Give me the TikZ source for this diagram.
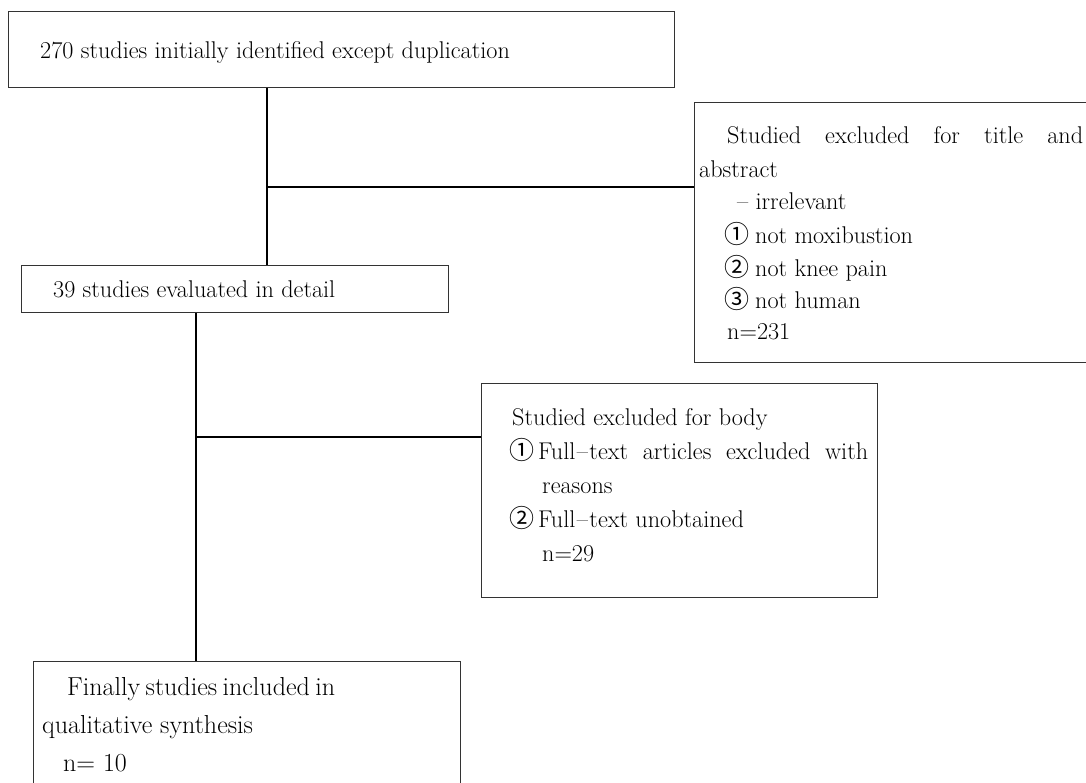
\documentclass[tikz,border=0pt]{standalone}
\usepackage{fontspec}
\newfontfamily\circfont{Noto Sans CJK SC}
\newcommand{\wdash}{\kern1.5pt\textendash\kern1.5pt}
\begin{document}
\begin{tikzpicture}[x=1pt,y=-1pt,
  box/.style={draw=black!80, line width=1.3pt, inner sep=0pt, anchor=north west},
  conn/.style={draw=black, line width=1.2pt},
  txt/.style={inner sep=0pt, anchor=base west, font=\fontsize{24.2}{33}\selectfont},
  bigtxt/.style={inner sep=0pt, anchor=base west, font=\fontsize{26}{38}\selectfont},
  circ/.style={inner sep=0pt, anchor=base west, font=\circfont\fontsize{25}{33}\selectfont}]
\useasboundingbox (0,0) rectangle (1086,782);
\clip (0,0) rectangle (1086,782);
\fill[white] (0,0) rectangle (1086,782);
% boxes
\node[box, minimum width=666pt, minimum height=76pt] (b1) at (8,11) {};
\node[box, minimum width=420pt, minimum height=260pt] (b2) at (694,102) {};
\node[box, minimum width=427pt, minimum height=47pt] (b3) at (21,265) {};
\node[box, minimum width=396pt, minimum height=214pt] (b4) at (481,383) {};
\node[box, minimum width=427pt, minimum height=160pt] (b5) at (33,661) {};
% connectors
\coordinate (j1) at (267,187);
\coordinate (j2) at (196,437);
\draw[conn] (b1.south -| j1) -- (b3.north -| j1);
\draw[conn] (j1) -- (j1 -| b2.west);
\draw[conn] (b3.south -| j2) -- (b5.north -| j2);
\draw[conn] (j2) -- (j2 -| b4.west);
% box 1 text
\node[txt] (t1) at (40,58) {270 studies initially identified except duplication};
% box 2 text
\node[txt] (t2a) at (727,143) {\makebox[356pt][s]{Studied excluded for title and}};
\node[txt] (t2b) at (699,177) {abstract};
\node[txt] (t2c) at (737,209) {\textendash\ irrelevant};
\node[circ] (c2a) at (724,243) {①};
\node[txt] (t2d) at (755,243) {not moxibustion};
\node[circ] (c2b) at (724,276) {②};
\node[txt] (t2e) at (755,276) {not knee pain};
\node[circ] (c2c) at (724,308) {③};
\node[txt] (t2f) at (755,308) {not human};
\node[txt] (t2g) at (727,339) {n=231};
% box 3 text
\node[txt] (t3) at (53,297) {39 studies evaluated in detail};
% box 4 text
\node[txt] (t4a) at (512,425) {Studied excluded for body};
\node[circ] (c4a) at (509,459) {①};
\node[txt] (t4b) at (538,459) {\makebox[330pt][s]{Full\wdash text articles excluded with}};
\node[txt] (t4c) at (542,493) {reasons};
\node[circ] (c4b) at (509,527) {②};
\node[txt] (t4d) at (538,527) {Full\wdash text unobtained};
\node[txt] (t4e) at (542,561) {n=29};
% box 5 text
\node[bigtxt] (t5a) at (67,695) {\makebox[268pt][s]{Finally studies included in}};
\node[bigtxt] (t5b) at (42,733) {qualitative synthesis};
\node[bigtxt] (t5c) at (63,771) {n= 10};
\end{tikzpicture}
\end{document}
